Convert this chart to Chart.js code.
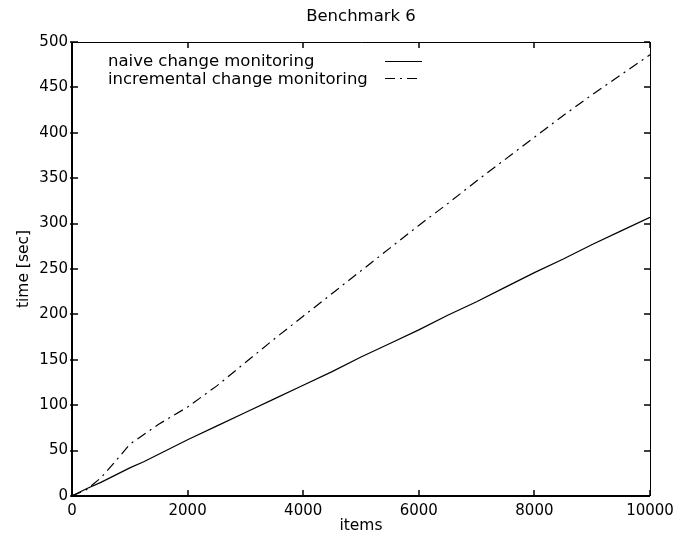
<!DOCTYPE html>
<html>
<head>
<meta charset="utf-8">
<script src="https://cdn.jsdelivr.net/npm/chart.js@4/dist/chart.umd.min.js"></script>
<style>
html,body{margin:0;padding:0;background:#fff;}
#wrap{width:677px;height:535px;}
</style>
</head>
<body>
<div id="wrap"><canvas id="c" width="677" height="535"></canvas></div>
<script>
const items = [0,250,500,750,1000,1250,1500,2000,2500,3000,3500,4000,4500,5000,5500,6000,6500,7000,7500,8000,8500,9000,9500,10000];
const naiveTimes = [0,8,15,23,31,38,46,62,77,92,107,122,137,153,168,183,199,214,230,246,261,277,292,307];
const incrementalTimes = [0,7,20,38,57,68,79,98,121,147,173,198,223,248,273,298,322,347,371,395,419,442,464,486];
const seriesNames = ['naive change monitoring','incremental change monitoring'];
const xTicks = [0,2000,4000,6000,8000,10000];
const yTicks = [0,50,100,150,200,250,300,350,400,450,500];
const chartTitle = 'Benchmark 6';
const xTitle = 'items';
const yTitle = 'time [sec]';

const FONT = "'DejaVu Sans', sans-serif";
const dashInc = [10,5,2,5];

const overlay = {
  id:'overlay',
  beforeDraw(chart){
    const ctx = chart.ctx;
    ctx.save();
    ctx.fillStyle='#fff';
    ctx.fillRect(0,0,chart.width,chart.height);
    ctx.restore();
  },
  afterDraw(chart){
    const ctx = chart.ctx;
    const a = chart.chartArea;
    const xs = chart.scales.x, ys = chart.scales.y;
    ctx.save();
    ctx.strokeStyle='#000';
    ctx.fillStyle='#000';
    // border
    ctx.lineWidth=2;
    ctx.beginPath();
    ctx.moveTo(a.left, a.top); ctx.lineTo(a.left, a.bottom); ctx.lineTo(a.right, a.bottom);
    ctx.stroke();
    ctx.lineWidth=1;
    ctx.beginPath();
    ctx.moveTo(a.left, a.top+0.5); ctx.lineTo(a.right+0.5, a.top+0.5); ctx.lineTo(a.right+0.5, a.bottom);
    ctx.stroke();
    // ticks
    ctx.lineWidth=1.5;
    ctx.beginPath();
    yTicks.forEach(v=>{
      const y = Math.round(ys.getPixelForValue(v));
      ctx.moveTo(a.left-2, y); ctx.lineTo(a.left+6, y);
      ctx.moveTo(a.right, y); ctx.lineTo(a.right-6, y);
    });
    xTicks.forEach(v=>{
      const x = Math.round(xs.getPixelForValue(v));
      ctx.moveTo(x, a.bottom); ctx.lineTo(x, a.bottom-6);
      ctx.moveTo(x, a.top); ctx.lineTo(x, a.top+6);
    });
    ctx.stroke();
    // title
    ctx.font = "16.5px " + FONT;
    ctx.textAlign='center';
    ctx.textBaseline='alphabetic';
    ctx.fillText(chartTitle, (a.left+a.right)/2, 21);
    // x title
    ctx.font = "15.5px " + FONT;
    ctx.fillText(xTitle, (a.left+a.right)/2, 530);
    // y title
    ctx.save();
    ctx.translate(28, (a.top+a.bottom)/2);
    ctx.rotate(-Math.PI/2);
    ctx.textAlign='center';
    ctx.fillText(yTitle, 0, 0);
    ctx.restore();
    // legend
    ctx.font = "16.5px " + FONT;
    ctx.textAlign='left';
    ctx.fillText(seriesNames[0], 108, 66);
    ctx.fillText(seriesNames[1], 108, 84);
    ctx.lineWidth=1;
    ctx.beginPath();
    ctx.moveTo(385, 61.5); ctx.lineTo(422, 61.5);
    ctx.stroke();
    ctx.setLineDash(dashInc);
    ctx.beginPath();
    ctx.moveTo(385, 78.5); ctx.lineTo(422, 78.5);
    ctx.stroke();
    ctx.setLineDash([]);
    ctx.restore();
  }
};

new Chart(document.getElementById('c'), {
  type:'line',
  data:{
    datasets:[
      {label:seriesNames[0], data: items.map((x,i)=>({x, y:naiveTimes[i]})), borderColor:'#000', borderWidth:1.2, pointRadius:0, tension:0, fill:false},
      {label:seriesNames[1], data: items.map((x,i)=>({x, y:incrementalTimes[i]})), borderColor:'#000', borderWidth:1.2, borderDash:dashInc, pointRadius:0, tension:0, fill:false}
    ]
  },
  options:{
    responsive:false,
    animation:false,
    devicePixelRatio:1,
    layout:{padding:{top:42,right:27,left:0,bottom:0}},
    plugins:{legend:{display:false}, title:{display:false}, tooltip:{enabled:false}},
    scales:{
      x:{type:'linear', min:0, max:10000,
         afterBuildTicks(s){ s.ticks = xTicks.map(v=>({value:v})); },
         afterFit(s){ s.height = 39; s.paddingLeft = 0; s.paddingRight = 0; },
         grid:{display:false, drawTicks:false}, border:{display:false},
         ticks:{color:'#000', font:{family:FONT, size:15}, padding:6, maxRotation:0, autoSkip:false,
                callback:(v)=>String(v)}},
      y:{type:'linear', min:0, max:500,
         afterBuildTicks(s){ s.ticks = yTicks.map(v=>({value:v})); },
         afterFit(s){ s.width = 72; s.paddingTop = 0; s.paddingBottom = 0; },
         grid:{display:false, drawTicks:false}, border:{display:false},
         ticks:{color:'#000', font:{family:FONT, size:15}, padding:4, autoSkip:false,
                callback:(v)=>String(v)}}
    }
  },
  plugins:[overlay]
});
</script>
</body>
</html>
